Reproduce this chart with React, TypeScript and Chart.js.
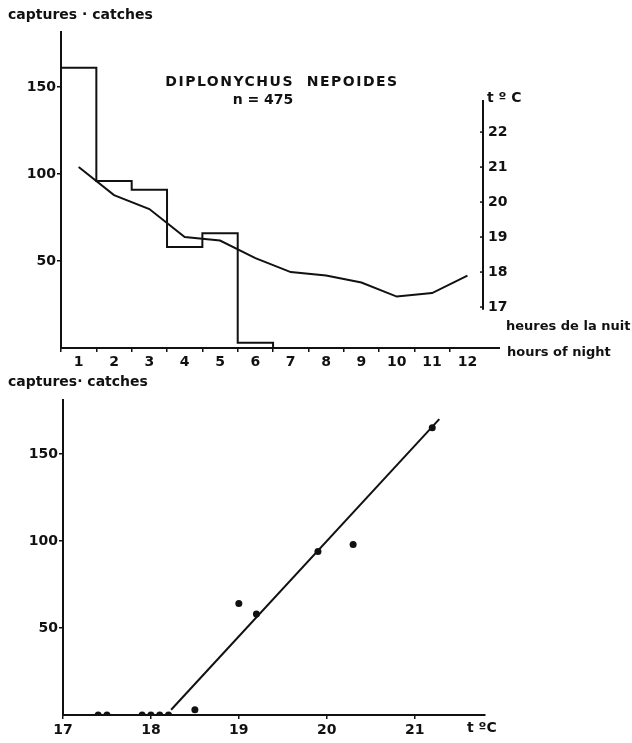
import React, { useEffect, useRef } from 'react';
import { Chart, registerables } from 'chart.js';

Chart.register(...registerables);

// ---- top chart data ----
const hours = [1, 2, 3, 4, 5, 6, 7, 8, 9, 10, 11, 12];
const catchesPerHour = [161, 96, 91, 58, 66, 3, 0, 0, 0, 0, 0, 0];
const tempPerHour = [21.0, 20.2, 19.8, 19.0, 18.9, 18.4, 18.0, 17.9, 17.7, 17.3, 17.4, 17.9];
const catchTicks = [50, 100, 150];
const tempTicks = [17, 18, 19, 20, 21, 22];

// ---- bottom chart data ----
const scatterTemps = [17.4, 17.5, 17.9, 18.0, 18.1, 18.2, 18.5, 19.0, 19.2, 19.9, 20.3, 21.2];
const scatterCatches = [0, 0, 0, 0, 0, 0, 3, 64, 58, 94, 98, 165];
const fitTemps = [18.23, 21.28];
const fitCatches = [3, 170];
const tempAxisTicks = [17, 18, 19, 20, 21];

const INK = '#111';
const FAMILY = '"DejaVu Sans", sans-serif';
const font = (size: number) => ({ family: FAMILY, size, weight: 'bold' as const });

const topText = {
  id: 'topText',
  afterDraw(chart: any) {
    const ctx = chart.ctx;
    const xs = chart.scales.x;
    const ts = chart.scales.t;
    ctx.save();
    ctx.strokeStyle = INK;
    ctx.lineWidth = 2;
    // extension of the hour axis beyond the plot
    ctx.beginPath();
    ctx.moveTo(xs.right - 1, xs.top);
    ctx.lineTo(xs.right + 17, xs.top);
    ctx.stroke();
    // temperature axis line
    ctx.beginPath();
    ctx.moveTo(ts.left, ts.getPixelForValue(16.92));
    ctx.lineTo(ts.left, ts.getPixelForValue(22.92));
    ctx.stroke();
    // small tick marks on the temperature axis
    ctx.lineWidth = 1.5;
    tempTicks.forEach((v) => {
      const y = ts.getPixelForValue(v);
      ctx.beginPath();
      ctx.moveTo(ts.left - 3, y);
      ctx.lineTo(ts.left, y);
      ctx.stroke();
    });
    ctx.fillStyle = INK;
    ctx.textBaseline = 'middle';
    ctx.font = `bold 14px ${FAMILY}`;
    ctx.textAlign = 'left';
    ctx.fillText('captures · catches', 8, 15);
    ctx.fillText('t º C', 487, 98);
    ctx.textAlign = 'center';
    ctx.fillText('n = 475', 263, 100);
    (ctx as any).letterSpacing = '1.5px';
    ctx.fillText('DIPLONYCHUS  NEPOIDES', 282, 82);
    (ctx as any).letterSpacing = '0px';
    ctx.textAlign = 'left';
    ctx.font = `bold 13px ${FAMILY}`;
    ctx.fillText('heures de la nuit', 506, 327);
    ctx.fillText('hours of night', 507, 353);
    ctx.restore();
  },
};

const bottomText = {
  id: 'bottomText',
  afterDraw(chart: any) {
    const ctx = chart.ctx;
    ctx.save();
    ctx.fillStyle = INK;
    ctx.textBaseline = 'middle';
    ctx.font = `bold 14px ${FAMILY}`;
    ctx.textAlign = 'left';
    ctx.fillText('captures· catches', 8, 12);
    ctx.fillText('t ºC', 467, 358);
    ctx.restore();
  },
};

export default function App() {
  const topRef = useRef<HTMLCanvasElement>(null);
  const botRef = useRef<HTMLCanvasElement>(null);

  useEffect(() => {
    // outline of the hourly histogram: points at the right edge of each bin
    const stepData = [
      { x: hours[0] - 0.5, y: 0 },
      ...hours.map((h, i) => ({ x: h + 0.5, y: catchesPerHour[i] })),
    ];
    const top = new Chart(topRef.current!, {
      type: 'line',
      data: {
        datasets: [
          {
            data: stepData,
            stepped: 'after',
            borderColor: INK,
            borderWidth: 2,
            pointRadius: 0,
            fill: false,
            yAxisID: 'y',
          },
          {
            data: hours.map((h, i) => ({ x: h, y: tempPerHour[i] })),
            borderColor: INK,
            borderWidth: 2,
            pointRadius: 0,
            fill: false,
            yAxisID: 't',
          },
        ],
      } as any,
      options: {
        animation: false,
        responsive: false,
        layout: { padding: { top: 32, left: 0, right: 0, bottom: 0 } },
        plugins: { legend: { display: false }, tooltip: { enabled: false } },
        scales: {
          x: {
            type: 'linear',
            min: 0.5,
            max: 12.44,
            afterBuildTicks: (s: any) => { s.ticks = hours.map((v) => ({ value: v })); },
            afterFit: (s: any) => { s.height = 22; },
            grid: { display: true, offset: true, drawOnChartArea: false, tickLength: 4, color: INK, lineWidth: 1.5 },
            border: { display: true, color: INK, width: 2 },
            ticks: { font: font(14), color: INK, padding: 2, maxRotation: 0, autoSkip: false, callback: (v: any) => String(v) },
          },
          y: {
            type: 'linear',
            position: 'left',
            min: 0,
            max: 181.6,
            afterBuildTicks: (s: any) => { s.ticks = catchTicks.map((v) => ({ value: v })); },
            afterFit: (s: any) => { s.width = 61; },
            grid: { display: true, drawOnChartArea: false, tickLength: 4, color: INK, lineWidth: 1.5 },
            border: { display: true, color: INK, width: 2 },
            ticks: { font: font(14), color: INK, padding: 1, callback: (v: any) => String(v) },
          },
          t: {
            type: 'linear',
            position: 'right',
            min: 15.83,
            max: 24.86,
            afterBuildTicks: (s: any) => { s.ticks = tempTicks.map((v) => ({ value: v })); },
            afterFit: (s: any) => { s.width = 149; },
            grid: { display: false, drawTicks: false, tickLength: 0 },
            border: { display: false },
            ticks: { font: font(14), color: INK, padding: 5, callback: (v: any) => String(v) },
          },
        },
      } as any,
      plugins: [topText],
    });

    const bot = new Chart(botRef.current!, {
      type: 'scatter',
      data: {
        datasets: [
          {
            data: scatterTemps.map((t, i) => ({ x: t, y: scatterCatches[i] })),
            pointRadius: 3.5,
            backgroundColor: INK,
            borderWidth: 0,
          },
          {
            type: 'line',
            data: fitTemps.map((t, i) => ({ x: t, y: fitCatches[i] })),
            showLine: true,
            borderColor: INK,
            borderWidth: 2,
            pointRadius: 0,
            fill: false,
          },
        ],
      } as any,
      options: {
        animation: false,
        responsive: false,
        layout: { padding: { top: 30, left: 0, right: 147, bottom: 0 } },
        plugins: { legend: { display: false }, tooltip: { enabled: false } },
        scales: {
          x: {
            type: 'linear',
            min: 17,
            max: 21.8,
            afterBuildTicks: (s: any) => { s.ticks = tempAxisTicks.map((v) => ({ value: v })); },
            afterFit: (s: any) => { s.height = 28; },
            grid: { display: true, drawOnChartArea: false, tickLength: 4, color: INK, lineWidth: 1.5 },
            border: { display: true, color: INK, width: 2 },
            ticks: { font: font(14), color: INK, padding: 3, maxRotation: 0, autoSkip: false, callback: (v: any) => String(v) },
          },
          y: {
            type: 'linear',
            min: 0,
            max: 181,
            afterBuildTicks: (s: any) => { s.ticks = catchTicks.map((v) => ({ value: v })); },
            afterFit: (s: any) => { s.width = 63; },
            grid: { display: true, drawOnChartArea: false, tickLength: 4, color: INK, lineWidth: 1.5 },
            border: { display: true, color: INK, width: 2 },
            ticks: { font: font(14), color: INK, padding: 1, callback: (v: any) => String(v) },
          },
        },
      } as any,
      plugins: [bottomText],
    });

    return () => {
      top.destroy();
      bot.destroy();
    };
  }, []);

  return (
    <div style={{ position: 'absolute', left: 0, top: 0, width: 632, height: 743, background: '#fff' }}>
      <canvas ref={topRef} width={632} height={370} style={{ position: 'absolute', left: 0, top: 0 }} />
      <canvas ref={botRef} width={632} height={373} style={{ position: 'absolute', left: 0, top: 370 }} />
    </div>
  );
}
